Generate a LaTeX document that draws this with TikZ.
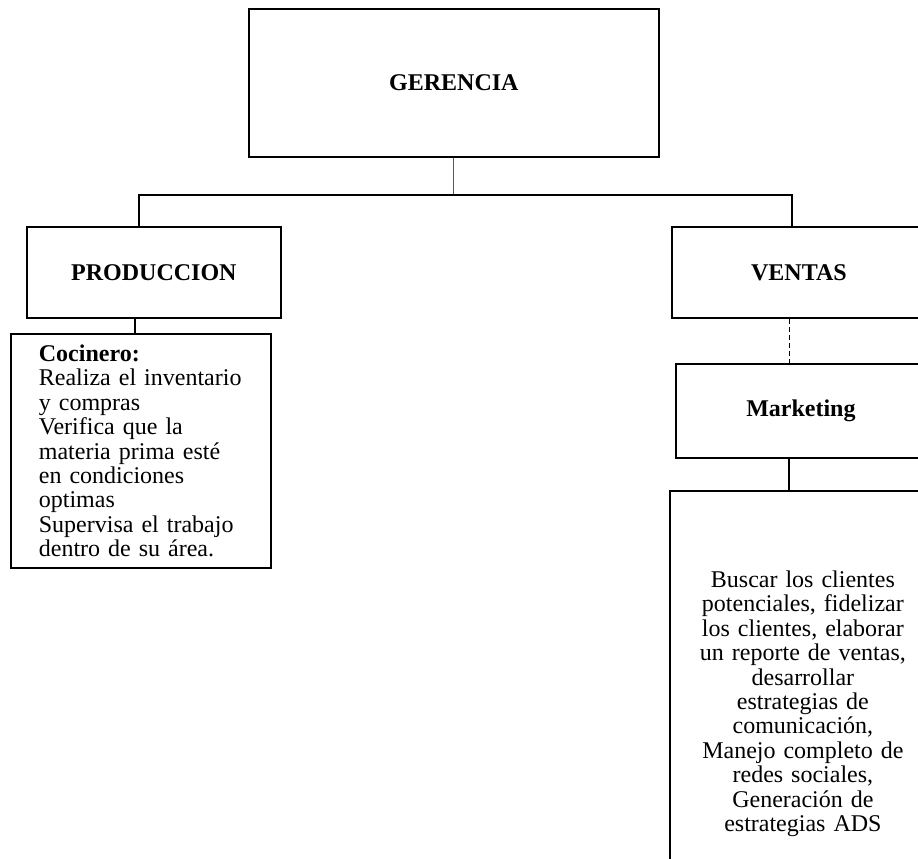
\documentclass[tikz,border=0pt]{standalone}
\usepackage{fontspec}
\setmainfont{Liberation Serif}
\newcommand{\chartSize}[0]{\fontsize{24}{24.4}\selectfont}

\begin{document}
\begin{tikzpicture}[x=1pt, y=-1pt]
  \tikzset{unit/.style={draw, line width=1.8pt, anchor=north west, inner sep=0pt, font=\chartSize\bfseries},
           duty/.style={draw, line width=1.8pt, anchor=north west, font=\chartSize},
           link/.style={line width=1.6pt}}
  \clip (0,0) rectangle (918,859);
  \node[unit, minimum width=410pt, minimum height=148pt] (ger) at (248,8) {GERENCIA};
  \node[unit, minimum width=254pt, minimum height=91pt] (prod) at (26,226) {PRODUCCION};
  \node[unit, minimum width=254pt, minimum height=91pt] (ven) at (671,226) {VENTAS};
  \node[unit, minimum width=250pt, minimum height=94pt] (mkt) at (675,363) {Marketing};
  \node[duty, text width=204pt, align=left, inner xsep=28pt, minimum height=234pt] (coc) at (10,333)
    {{\bfseries Cocinero:}\\Realiza el inventario\\y compras\\Verifica que la\\materia prima esté\\
     en condiciones\\optimas\\Supervisa el trabajo\\dentro de su área.};
  \node[duty, text width=230pt, align=center, inner xsep=18pt, inner ysep=80pt] (tareas) at (669,490)
    {Buscar los clientes\\potenciales, fidelizar\\los clientes, elaborar\\un reporte de ventas,\\
     desarrollar\\estrategias de\\comunicación,\\Manejo completo de\\redes sociales,\\
     Generación de\\estrategias ADS};
  \draw[gray!70!black, line width=1pt] (ger.south) -- ++(0,37) coordinate (bar);
  \draw[link] ([xshift=-15pt]prod.north) |- (bar) -| ([xshift=-7pt]ven.north);
  \draw[link] ([xshift=-19pt]prod.south) -- ([xshift=-19pt]prod.south |- coc.north);
  \draw[line width=1pt, dash pattern=on 5pt off 3pt] ([xshift=-9pt]ven.south) -- ([xshift=-9pt]ven.south |- mkt.north);
  \draw[link] ([xshift=-12pt]mkt.south) -- ([xshift=-12pt]mkt.south |- tareas.north);
\end{tikzpicture}
\end{document}
